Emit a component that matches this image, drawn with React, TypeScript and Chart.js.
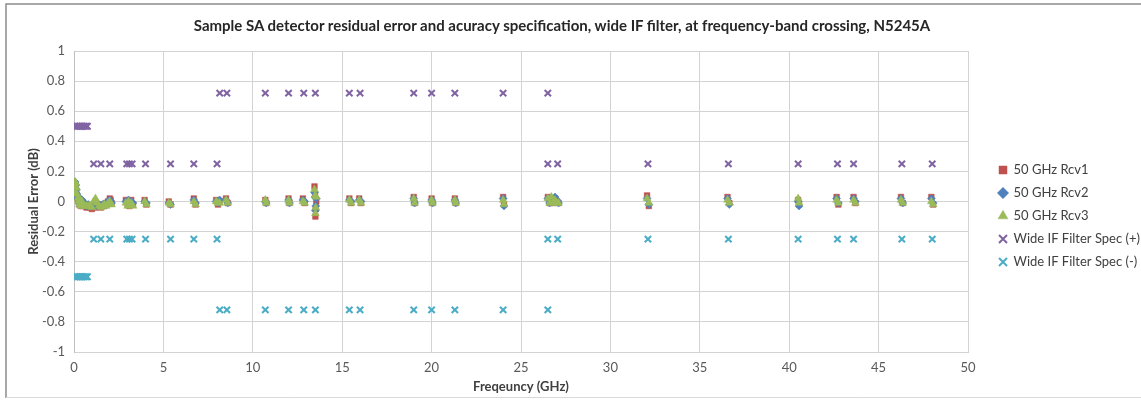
import React, { useEffect, useRef } from "react";
import { Chart, registerables } from "chart.js";

Chart.register(...registerables);

const chartTitle =
  "Sample SA detector residual error and acuracy specification, wide IF filter, at frequency-band crossing, N5245A";
const xAxisTitle = "Freqeuncy (GHz)";
const yAxisTitle = "Residual Error (dB)";

const seriesNames = [
  "50 GHz Rcv1",
  "50 GHz Rcv2",
  "50 GHz Rcv3",
  "Wide IF Filter Spec (+)",
  "Wide IF Filter Spec (-)",
];

// Measurement frequencies (GHz) shared by the three receivers
const freqGHz = [
  0.01, 0.03, 0.06, 0.1, 0.13, 0.16, 0.2, 0.25, 0.3, 0.35, 0.4, 0.45, 0.5, 0.6, 0.7, 0.8, 0.9, 1.0, 1.1, 1.2,
  1.3, 1.4, 1.5, 1.6, 1.7, 1.8, 1.9, 2.0, 2.05, 2.1,
  2.9, 3.0, 3.05, 3.1, 3.2, 3.3,
  3.95, 4.05, 5.3, 5.4, 6.7, 6.8,
  7.95, 8.05, 8.15, 8.5, 8.6,
  10.7, 10.75, 12.0, 12.05, 12.8, 12.9,
  13.45, 13.48, 13.5, 13.52, 13.55,
  15.4, 15.5, 15.95, 16.05, 19.0, 19.05, 20.0, 20.05, 21.3, 21.35, 24.0, 24.05,
  26.5, 26.6, 26.7, 26.8, 26.9, 27.0, 27.1,
  32.05, 32.15, 36.55, 36.65, 40.5, 40.55, 42.65, 42.75, 43.6, 43.7, 46.25, 46.35, 47.95, 48.05,
];

const rcv1 = [
  0.05, 0.1, 0.12, 0.1, 0.07, 0.04, 0.02, 0.0, -0.02, 0.01, -0.03, 0.0, -0.03, -0.02, -0.04, -0.03, -0.04, -0.05, -0.03, -0.04,
  -0.02, -0.03, -0.04, -0.02, -0.03, -0.01, 0.0, 0.02, 0.01, -0.01,
  0.01, -0.02, 0.0, -0.03, 0.01, -0.02,
  0.01, -0.02, 0.0, -0.02, 0.02, -0.02,
  0.01, -0.02, 0.0, 0.02, -0.01,
  0.01, -0.01, 0.02, -0.01, 0.02, -0.01,
  0.1, 0.05, -0.1, -0.05, 0.0,
  0.02, -0.01, 0.02, -0.01, 0.03, -0.01, 0.02, -0.01, 0.02, -0.01, 0.03, -0.02,
  0.03, -0.01, 0.02, -0.01, 0.02, 0.0, -0.01,
  0.04, -0.03, 0.03, -0.01, 0.01, -0.02, 0.03, -0.02, 0.03, -0.01, 0.03, -0.01, 0.03, -0.02,
];

const rcv2 = [
  0.04, 0.09, 0.13, 0.11, 0.08, 0.05, 0.03, 0.01, -0.01, 0.02, -0.02, 0.01, -0.02, -0.01, -0.03, -0.02, -0.03, -0.03, -0.02, -0.03,
  -0.02, -0.02, -0.03, -0.02, -0.02, -0.01, 0.0, 0.01, 0.0, -0.01,
  0.0, -0.01, 0.01, -0.02, 0.0, -0.01,
  0.0, -0.01, -0.01, -0.02, 0.01, -0.01,
  0.0, -0.01, 0.01, 0.01, -0.01,
  0.0, -0.01, 0.01, -0.01, 0.01, 0.0,
  0.06, 0.03, -0.06, -0.03, 0.02,
  0.01, 0.0, 0.01, 0.0, 0.02, -0.01, 0.01, -0.01, 0.01, -0.01, 0.02, -0.03,
  0.02, -0.01, 0.01, 0.0, 0.03, 0.01, -0.01,
  0.02, -0.02, 0.02, -0.02, 0.0, -0.03, 0.02, -0.01, 0.02, 0.0, 0.02, -0.01, 0.02, -0.01,
];

const rcv3 = [
  0.06, 0.1, 0.13, 0.12, 0.09, 0.05, 0.02, 0.0, -0.02, 0.01, -0.03, 0.0, -0.03, -0.03, -0.03, -0.03, -0.03, -0.04, 0.0, 0.02,
  -0.01, -0.03, -0.04, -0.03, -0.02, -0.03, -0.01, 0.0, -0.02, -0.02,
  -0.01, -0.03, 0.0, -0.02, -0.01, -0.03,
  0.0, -0.02, -0.01, -0.02, 0.0, -0.02,
  0.0, -0.01, -0.01, 0.01, -0.01,
  0.01, -0.01, 0.01, -0.01, 0.0, -0.01,
  0.08, 0.04, -0.08, -0.04, 0.03,
  0.01, -0.01, 0.01, -0.01, 0.02, -0.01, 0.01, -0.01, 0.01, -0.01, 0.01, -0.02,
  0.02, -0.01, 0.03, -0.01, 0.01, -0.01, -0.01,
  0.02, -0.01, 0.01, -0.01, 0.02, -0.01, 0.01, -0.01, 0.01, -0.01, 0.01, -0.01, 0.0, -0.02,
];

// Specification limits
const specFreqGHz = [
  0.05, 0.15, 0.25, 0.35, 0.45, 0.55, 0.65, 0.75,
  1.1, 1.5, 2.0, 2.95, 3.1, 3.25, 4.0, 5.4, 6.7, 8.0,
  8.15, 8.55, 10.7, 12.0, 12.85, 13.5, 15.4, 16.0, 19.0, 20.0, 21.3, 24.0, 26.5,
  26.5, 27.05, 32.1, 36.6, 40.5, 42.7, 43.6, 46.3, 48.0,
];
const specPlus = [
  0.5, 0.5, 0.5, 0.5, 0.5, 0.5, 0.5, 0.5,
  0.25, 0.25, 0.25, 0.25, 0.25, 0.25, 0.25, 0.25, 0.25, 0.25,
  0.72, 0.72, 0.72, 0.72, 0.72, 0.72, 0.72, 0.72, 0.72, 0.72, 0.72, 0.72, 0.72,
  0.25, 0.25, 0.25, 0.25, 0.25, 0.25, 0.25, 0.25, 0.25,
];
const specMinus = [
  -0.5, -0.5, -0.5, -0.5, -0.5, -0.5, -0.5, -0.5,
  -0.25, -0.25, -0.25, -0.25, -0.25, -0.25, -0.25, -0.25, -0.25, -0.25,
  -0.72, -0.72, -0.72, -0.72, -0.72, -0.72, -0.72, -0.72, -0.72, -0.72, -0.72, -0.72, -0.72,
  -0.25, -0.25, -0.25, -0.25, -0.25, -0.25, -0.25, -0.25, -0.25,
];

const xTicks = [0, 5, 10, 15, 20, 25, 30, 35, 40, 45, 50];
const yTicks = [-1, -0.8, -0.6, -0.4, -0.2, 0, 0.2, 0.4, 0.6, 0.8, 1];

const FONT = "Lato, sans-serif";
const GRID = "#d3d3d3";

const framePlugin = {
  id: "frame",
  beforeDraw(chart: any) {
    const { ctx, width, height } = chart;
    ctx.save();
    ctx.fillStyle = "#ffffff";
    ctx.fillRect(0, 0, width, height);
    ctx.strokeStyle = "#8c8c8c";
    ctx.lineWidth = 1.5;
    ctx.beginPath();
    ctx.moveTo(6, height - 4);
    ctx.lineTo(6, 4);
    ctx.lineTo(width, 4);
    ctx.stroke();
    ctx.strokeStyle = "#d9d9d9";
    ctx.lineWidth = 1;
    ctx.beginPath();
    ctx.moveTo(6, height - 4.5);
    ctx.lineTo(width, height - 4.5);
    ctx.stroke();
    ctx.restore();
  },
};

export default function App() {
  const ref = useRef<HTMLCanvasElement | null>(null);

  useEffect(() => {
    if (!ref.current) return;
    const pts = (xs: number[], ys: number[]) => xs.map((x, i) => ({ x, y: ys[i] }));
    const chart = new Chart(ref.current, {
      type: "scatter",
      data: {
        datasets: [
          {
            label: seriesNames[0],
            data: pts(freqGHz, rcv1),
            pointStyle: "rect",
            pointRadius: 4,
            backgroundColor: "#C0504D",
            borderColor: "#C0504D",
            borderWidth: 0.5,
            order: 3,
          },
          {
            label: seriesNames[1],
            data: pts(freqGHz, rcv2),
            pointStyle: "rectRot",
            pointRadius: 4,
            backgroundColor: "#4F81BD",
            borderColor: "#4F81BD",
            borderWidth: 0.5,
            order: 2,
          },
          {
            label: seriesNames[2],
            data: pts(freqGHz, rcv3),
            pointStyle: "triangle",
            pointRadius: 4.5,
            backgroundColor: "#9BBB59",
            borderColor: "#9BBB59",
            borderWidth: 0.5,
            order: 1,
          },
          {
            label: seriesNames[3],
            data: pts(specFreqGHz, specPlus),
            pointStyle: "crossRot",
            pointRadius: 4.5,
            backgroundColor: "#8064A2",
            borderColor: "#8064A2",
            borderWidth: 2,
            order: 0,
          },
          {
            label: seriesNames[4],
            data: pts(specFreqGHz, specMinus),
            pointStyle: "crossRot",
            pointRadius: 4.5,
            backgroundColor: "#4BACC6",
            borderColor: "#4BACC6",
            borderWidth: 2,
            order: 0,
          },
        ],
      },
      options: {
        responsive: false,
        animation: false,
        events: [],
        layout: { padding: { left: 8, right: 0, top: 51, bottom: 4 } },
        plugins: {
          title: { display: false },
          legend: {
            position: "right",
            align: "start",
            maxWidth: 152,
            title: {
              display: true,
              text: " ",
              font: { family: FONT, size: 10 },
              padding: { top: 90.5, bottom: 0 },
            },
            labels: {
              usePointStyle: true,
              boxWidth: 8,
              boxHeight: 8,
              padding: 10,
              color: "#404040",
              font: { family: FONT, size: 13 },
              sort: (a: any, b: any) => a.datasetIndex - b.datasetIndex,
            },
          },
          tooltip: { enabled: false },
        },
        scales: {
          x: {
            type: "linear",
            min: 0,
            max: 50,
            afterBuildTicks: (axis: any) => {
              axis.ticks = xTicks.map((v) => ({ value: v }));
            },
            afterFit: (axis: any) => {
              axis.height = 46;
            },
            ticks: {
              color: "#595959",
              font: { family: FONT, size: 13 },
              padding: 8,
            },
            grid: { color: GRID, drawTicks: false },
            border: { color: GRID },
            title: {
              display: true,
              text: xAxisTitle,
              color: "#404040",
              font: { family: FONT, size: 13, weight: "bold" },
              padding: { top: 0, bottom: 3 },
            },
          },
          y: {
            type: "linear",
            min: -1,
            max: 1,
            afterBuildTicks: (axis: any) => {
              axis.ticks = yTicks.map((v) => ({ value: v }));
            },
            afterFit: (axis: any) => {
              axis.width = 66;
            },
            ticks: {
              color: "#595959",
              font: { family: FONT, size: 13 },
              padding: 9,
              callback: (v: any) => String(Math.round(Number(v) * 10) / 10),
            },
            grid: { color: GRID, drawTicks: false },
            border: { color: "#bfbfbf" },
            title: {
              display: true,
              text: yAxisTitle,
              color: "#404040",
              font: { family: FONT, size: 13, weight: "bold" },
              padding: { top: 18, bottom: 0 },
            },
          },
          yRight: {
            type: "linear",
            position: "right",
            min: -1,
            max: 1,
            afterFit: (axis: any) => {
              axis.width = 21;
            },
            ticks: { display: false },
            grid: { display: false, drawTicks: false },
            border: { display: false },
          },
        },
      },
      plugins: [framePlugin],
    });
    return () => chart.destroy();
  }, []);

  return (
    <div style={{ position: "absolute", left: 0, top: 0, width: 1141, height: 402 }}>
      <canvas ref={ref} width={1141} height={402} style={{ display: "block" }} />
      <div
        style={{
          position: "absolute",
          left: 0,
          top: 17,
          width: 1124,
          textAlign: "center",
          fontFamily: FONT,
          fontWeight: "bold",
          fontSize: 15,
          lineHeight: "16px",
          color: "#262626",
          whiteSpace: "nowrap",
        }}
      >
        {chartTitle}
      </div>
    </div>
  );
}
